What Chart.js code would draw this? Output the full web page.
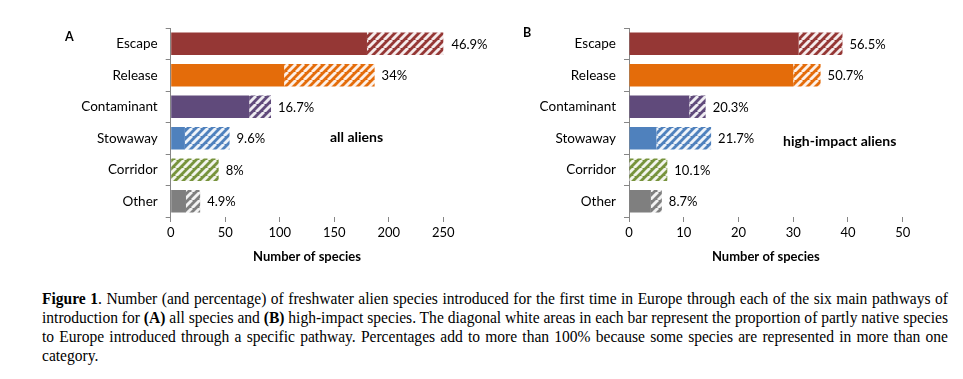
<!DOCTYPE html>
<html><head><meta charset="utf-8">
<script src="https://cdn.jsdelivr.net/npm/chart.js@4.4.1/dist/chart.umd.min.js"></script>
<style>
body{margin:0;width:963px;height:379px;background:#fff;position:relative;overflow:hidden;font-family:Lato,sans-serif;color:#000;}
canvas{position:absolute;top:0;}
#ca{left:0;}
#cb{left:490px;}
.lbl{position:absolute;font-weight:bold;white-space:nowrap;line-height:1;}
#cap{position:absolute;left:42px;top:289px;width:906px;font-family:'Liberation Serif','Times New Roman',serif;font-size:16px;line-height:19px;transform-origin:0 0;}
#cap div{text-align:justify;text-align-last:justify;white-space:nowrap;}
#cap div.last{text-align-last:left;}
</style>
</head><body>
<canvas id="ca" width="500" height="270"></canvas>
<canvas id="cb" width="473" height="270"></canvas>
<div class="lbl" style="left:65px;top:31px;font-size:12.5px;">A</div>
<div class="lbl" style="left:523px;top:27px;font-size:12.5px;">B</div>
<div class="lbl" style="left:330px;top:130px;font-size:14px;">all aliens</div>
<div class="lbl" style="left:783px;top:134px;font-size:14px;">high-impact aliens</div>
<div id="cap">
<div><b>Figure 1</b>. Number (and percentage) of freshwater alien species introduced for the first time in Europe through each of the six main pathways of</div>
<div>introduction for <b>(A)</b> all species and <b>(B)</b> high-impact species. The diagonal white areas in each bar represent the proportion of partly native species</div>
<div>to Europe introduced through a specific pathway. Percentages add to more than 100% because some species are represented in more than one</div>
<div class="last">category.</div>
</div>
<script>
const categories=['Escape','Release','Contaminant','Stowaway','Corridor','Other'];
const colors=['#953735','#E46C0A','#604A7B','#4F81BD','#77933C','#7F7F7F'];
// Panel A: all aliens
const allNonNative=[180,104,72,13,0,14];
const allPartlyNative=[71,83,20,41,44,13];
const allPct=['46.9%','34%','16.7%','9.6%','8%','4.9%'];
const allTicks=[0,50,100,150,200,250];
// Panel B: high-impact aliens
const hiNonNative=[31,30,11,5,0,4];
const hiPartlyNative=[8,5,3,10,7,2];
const hiPct=['56.5%','50.7%','20.3%','21.7%','10.1%','8.7%'];
const hiTicks=[0,10,20,30,40,50];

// fit caption lines (condensed serif) into 906px
(function(){
  const cap=document.getElementById('cap');
  const lines=[...cap.children];
  let maxW=0;
  lines.forEach(d=>{const sp=document.createElement('span');while(d.firstChild)sp.appendChild(d.firstChild);d.appendChild(sp);maxW=Math.max(maxW,sp.getBoundingClientRect().width);});
  const sc=Math.min(1,906/maxW);
  cap.style.width=(906/sc)+'px';
  cap.style.transform='scaleX('+sc+')';
  lines.forEach(d=>{const sp=d.firstChild;while(sp.firstChild)d.insertBefore(sp.firstChild,sp);d.removeChild(sp);});
})();

const FONT='Lato, sans-serif';
function hatch(color){
  const s=8;const c=document.createElement('canvas');c.width=s;c.height=s;
  const g=c.getContext('2d');g.fillStyle=color;g.fillRect(0,0,s,s);
  g.strokeStyle='rgba(255,255,255,0.9)';g.lineWidth=2.9;g.beginPath();
  for(const o of [-s,0,s]){g.moveTo(o,s);g.lineTo(o+s,0);}
  g.stroke();
  return g.createPattern(c,'repeat');
}
const pctPlugin={id:'pct',afterDatasetsDraw(chart,args,opts){
  const ctx=chart.ctx;const xs=chart.scales.x, ys=chart.scales.y;
  const d0=chart.data.datasets[0].data, d1=chart.data.datasets[1].data;
  ctx.save();ctx.font='13px '+FONT;ctx.fillStyle='#000';ctx.textBaseline='middle';ctx.textAlign='left';
  opts.labels.forEach((t,i)=>{ctx.fillText(t,xs.getPixelForValue(d0[i]+d1[i])+7,ys.getPixelForValue(i)+1);});
  ctx.restore();
}};
function make(id,nonNative,partly,pct,ticks,yWidth,padRight){
  return new Chart(document.getElementById(id),{
    type:'bar',
    data:{labels:categories,datasets:[
      {data:nonNative,backgroundColor:colors,borderWidth:0,barPercentage:0.72,categoryPercentage:1},
      {data:partly,backgroundColor:colors.map(hatch),borderWidth:0,barPercentage:0.72,categoryPercentage:1}
    ]},
    options:{indexAxis:'y',responsive:false,animation:false,devicePixelRatio:1,
      layout:{padding:{top:28,right:padRight,left:0,bottom:0}},
      plugins:{legend:{display:false},tooltip:{enabled:false},pct:{labels:pct}},
      scales:{
        x:{stacked:true,min:ticks[0],max:ticks[ticks.length-1],
          afterBuildTicks(s){s.ticks=ticks.map(v=>({value:v}));},
          ticks:{color:'#000',font:{size:13,family:FONT},padding:3,maxRotation:0},
          grid:{drawOnChartArea:false,drawTicks:true,tickLength:5,color:'#868686'},
          border:{display:false},
          title:{display:true,text:'Number of species',color:'#000',font:{size:13,weight:'bold',family:FONT},padding:{top:0,bottom:5}},
          afterFit(s){s.height=53;}},
        y:{stacked:true,
          ticks:{color:'#000',font:{size:13.5,family:FONT},padding:8},
          grid:{offset:true,drawOnChartArea:false,drawTicks:true,tickLength:5,color:'#868686'},
          border:{display:true,color:'#868686'},
          afterFit(s){s.width=yWidth;}}
      }
    },
    plugins:[pctPlugin]
  });
}
make('ca',allNonNative,allPartlyNative,allPct,allTicks,170.7,56.7);
make('cb',hiNonNative,hiPartlyNative,hiPct,hiTicks,139,60.3);
</script>
</body></html>
